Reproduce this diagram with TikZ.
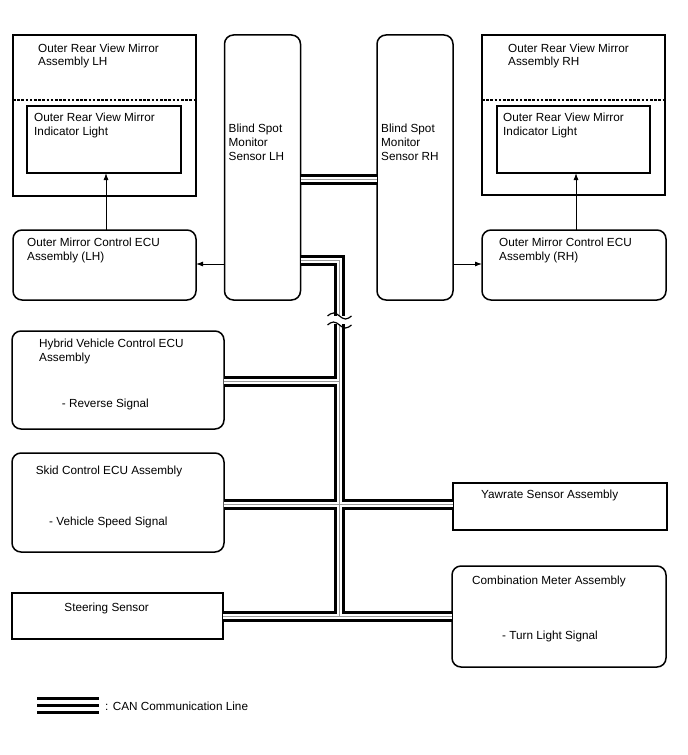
\documentclass[tikz,border=0pt]{standalone}
\usepackage{fontspec}
\setmainfont{Liberation Sans}
\usetikzlibrary{arrows.meta}
\begin{document}
\begin{tikzpicture}[x=1bp,y=-1bp,
  sqbox/.style={draw, line width=1.5bp, anchor=north west, outer sep=0pt, inner sep=0pt},
  rbox/.style={sqbox, rounded corners=9bp},
  lbl/.style={anchor=base west, inner sep=0pt, align=left, font=\fontsize{11.8}{14}\selectfont},
  arr/.style={line width=0.9bp, -{Latex[length=7bp,width=5bp]}},
  canA/.style={line width=11bp, black, line join=miter},
  canB/.style={line width=5bp, white, line join=miter},
  canC/.style={line width=1bp, black!40, line join=miter},
  tilde/.style={line width=1.2bp}
]
\useasboundingbox[fill=white] (0,0) rectangle (688,755);

% boxes
\node[sqbox, minimum width=183bp, minimum height=161bp] (mirL) at (13,35) {};
\node[sqbox, minimum width=154bp, minimum height=67bp] (innL) at (27,106) {};
\node[rbox, minimum width=183bp, minimum height=70bp] (ecuL) at (13,230) {};
\node[rbox, minimum width=76bp, minimum height=265bp] (bsmL) at (224.5,35) {};
\node[rbox, minimum width=76bp, minimum height=265bp] (bsmR) at (377,35) {};
\node[sqbox, minimum width=183bp, minimum height=160bp] (mirR) at (482,35) {};
\node[sqbox, minimum width=153bp, minimum height=67bp] (innR) at (497,106) {};
\node[rbox, minimum width=184bp, minimum height=70bp] (ecuR) at (482,230) {};
\node[rbox, minimum width=212bp, minimum height=98bp] (hyb) at (12,331) {};
\node[rbox, minimum width=212bp, minimum height=99bp] (skid) at (12,453) {};
\node[sqbox, minimum width=211bp, minimum height=46bp] (steer) at (12,593) {};
\node[sqbox, minimum width=214bp, minimum height=47bp] (yaw) at (453,483) {};
\node[rbox, minimum width=214bp, minimum height=101bp] (comb) at (452,566) {};

% dashed separators
\draw[line width=1.5bp, dash pattern=on 2.6bp off 1.6bp] (mirL.west |- 0,100) -- (mirL.east |- 0,100);
\draw[line width=1.5bp, dash pattern=on 2.6bp off 1.6bp] (mirR.west |- 0,100) -- (mirR.east |- 0,100);

% labels (base = baseline of the last line)
\node[lbl] (tMirL) at (38,66) {Outer Rear View Mirror\\Assembly LH};
\node[lbl] (tInnL) at (34,135) {Outer Rear View Mirror\\Indicator Light};
\node[lbl] (tEcuL) at (27,260.5) {Outer Mirror Control ECU\\Assembly (LH)};
\node[lbl] (tBsmL) at (228.5,160) {Blind Spot\\Monitor\\Sensor LH};
\node[lbl] (tBsmR) at (381,160) {Blind Spot\\Monitor\\Sensor RH};
\node[lbl] (tMirR) at (508,66) {Outer Rear View Mirror\\Assembly RH};
\node[lbl] (tInnR) at (503,135) {Outer Rear View Mirror\\Indicator Light};
\node[lbl] (tEcuR) at (499,260.5) {Outer Mirror Control ECU\\Assembly (RH)};
\node[lbl] (tHyb) at (39,361) {Hybrid Vehicle Control ECU\\Assembly};
\node[lbl] (tHyb2) at (61.7,407.5) {- Reverse Signal};
\node[lbl] (tSkid) at (35.7,474) {Skid Control ECU Assembly};
\node[lbl] (tSkid2) at (49,525) {- Vehicle Speed Signal};
\node[lbl] (tSteer) at (64.3,611) {Steering Sensor};
\node[lbl] (tYaw) at (481,498) {Yawrate Sensor Assembly};
\node[lbl] (tComb) at (472,584) {Combination Meter Assembly};
\node[lbl] (tComb2) at (502,639) {- Turn Light Signal};
\node[lbl] (tLeg) at (105,710) {: CAN Communication Line};

% arrows
\draw[arr] (ecuL.north -| 106,0) -- (innL.south -| 106,0);
\draw[arr] (ecuR.north -| 576,0) -- (innR.south -| 576,0);
\draw[arr] (bsmL.west |- 0,264) -- (ecuL.east |- 0,264);
\draw[arr] (bsmR.east |- 0,264) -- (ecuR.west |- 0,264);

% CAN bus coordinates
\coordinate (busTop) at (339.5,260.5);
\coordinate (busHyb) at (339.5,381.5);
\coordinate (busSkid) at (339.5,504.5);
\coordinate (busBot) at (339.5,616.5);

\foreach \s in {canA,canB,canC}{
  \draw[\s] (bsmL.east |- busTop) -- (busTop) -- (busBot);
  \draw[\s] (hyb.east |- busHyb) -- (busHyb);
  \draw[\s] (skid.east |- busSkid) -- (yaw.west |- busSkid);
  \draw[\s] (steer.east |- busBot) -- (comb.west |- busBot);
  \draw[\s] (bsmL.east |- 0,179.5) -- (bsmR.west |- 0,179.5);
}

% break mark
\coordinate (brk) at (339.5,320);
\fill[white] ([shift={(-8,-4)}]brk) rectangle ([shift={(8,4)}]brk);
\draw[tilde] ([shift={(-12,-4)}]brk) sin ([shift={(-6,-7)}]brk) cos ([shift={(0,-4)}]brk) sin ([shift={(6,-1)}]brk) cos ([shift={(12,-4)}]brk);
\draw[tilde] ([shift={(-12,5)}]brk) sin ([shift={(-6,2)}]brk) cos ([shift={(0,5)}]brk) sin ([shift={(6,8)}]brk) cos ([shift={(12,5)}]brk);

% legend
\coordinate (legL) at (37,705.5);
\coordinate (legR) at (99,705.5);
\draw[line width=3bp] ([yshift=-6.5bp]legL) -- ([yshift=-6.5bp]legR);
\draw[line width=2.5bp] (legL) -- (legR);
\draw[line width=3bp] ([yshift=7bp]legL) -- ([yshift=7bp]legR);
\end{tikzpicture}
\end{document}
